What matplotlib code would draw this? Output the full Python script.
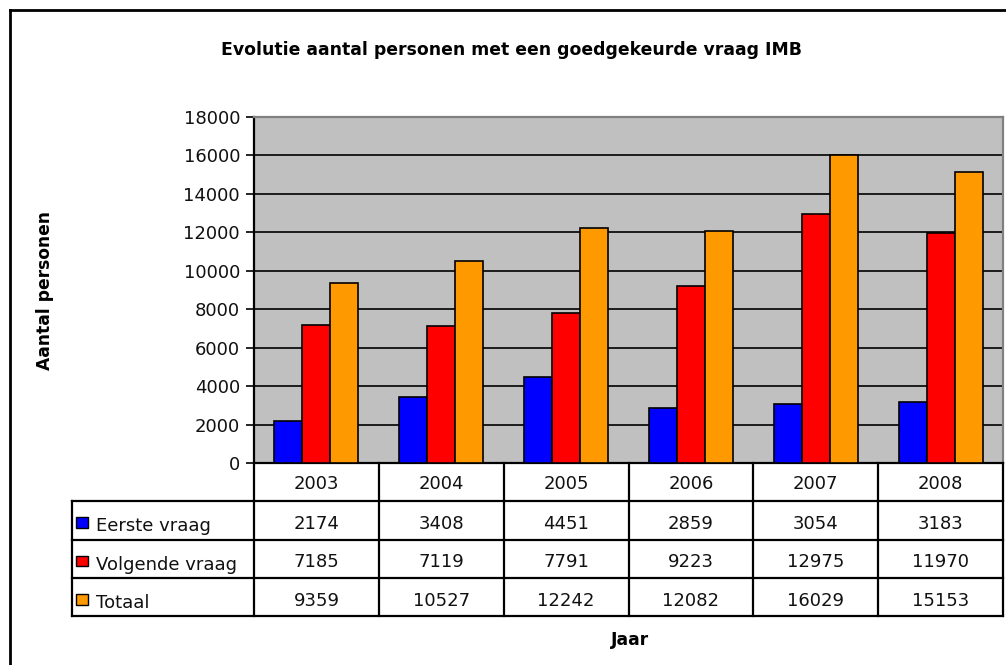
import numpy as np
import matplotlib.pyplot as plt
from matplotlib.lines import Line2D
from matplotlib.patches import Rectangle

years = ['2003', '2004', '2005', '2006', '2007', '2008']
series_names = ['Eerste vraag', 'Volgende vraag', 'Totaal']
eerste = [2174, 3408, 4451, 2859, 3054, 3183]
volgende = [7185, 7119, 7791, 9223, 12975, 11970]
totaal = [9359, 10527, 12242, 12082, 16029, 15153]
colors = ['#0000FF', '#FF0000', '#FF9900']

W, H = 1006, 665
fig = plt.figure(figsize=(W / 100, H / 100), dpi=100)
plt.rcParams['font.family'] = ['DejaVu Sans']
fs = 13

# plot area in pixels
px_l, px_r, px_t, px_b = 254, 1003, 117, 463
ax = fig.add_axes([px_l / W, 1 - px_b / H, (px_r - px_l) / W, (px_b - px_t) / H])
ax.set_facecolor('#C0C0C0')

x = np.arange(len(years))
bw = 0.224
for i, (vals, c) in enumerate(zip([eerste, volgende, totaal], colors)):
    ax.bar(x + (i - 1) * bw, vals, bw, color=c, edgecolor='black', linewidth=1.2, zorder=3)

ax.set_xlim(-0.5, len(years) - 0.5)
ax.set_ylim(0, 18000)
ax.set_yticks(np.arange(0, 18001, 2000))
ax.set_xticks([])
ax.yaxis.grid(True, color='black', linewidth=1.2)
ax.set_axisbelow(True)
for s in ['left', 'bottom']:
    ax.spines[s].set_color('black')
    ax.spines[s].set_linewidth(1.6)
for s in ['top', 'right']:
    ax.spines[s].set_color('#808080')
    ax.spines[s].set_linewidth(1.6)
ax.tick_params(axis='y', direction='out', length=6, width=1.2, labelsize=fs, pad=4,
               labelcolor='#111111')

# data table below the plot
tb_l, tb_t, tb_b = 72, 463, 616
unit = (px_r - px_l) / len(years)
x_left = -0.5 - (px_l - tb_l) / unit
tax = fig.add_axes([tb_l / W, 1 - tb_b / H, (px_r - tb_l) / W, (tb_b - tb_t) / H])
tax.set_xlim(x_left, len(years) - 0.5)
tax.set_ylim(4, 0)
tax.axis('off')
lk = dict(color='black', linewidth=1.6, clip_on=False)
for k in range(len(years) + 1):
    tax.plot([k - 0.5, k - 0.5], [0, 4], **lk)
for r in range(1, 5):
    tax.plot([x_left, len(years) - 0.5], [r, r], **lk)
tax.plot([x_left, x_left], [1, 4], **lk)

for k, yr in enumerate(years):
    tax.text(k, 0.55, yr, ha='center', va='center', fontsize=fs, color='#111111')
for r, (name, vals, c) in enumerate(zip(series_names, [eerste, volgende, totaal], colors)):
    row = r + 1
    for k, v in enumerate(vals):
        tax.text(k, row + 0.6, str(v), ha='center', va='center', fontsize=fs, color='#111111')
    sx = x_left + 4 / unit
    tax.add_patch(Rectangle((sx, row + 0.42), 12 / unit, 0.28, facecolor=c,
                            edgecolor='black', linewidth=1, clip_on=False))
    tax.text(x_left + 24 / unit, row + 0.66, name, ha='left', va='center', fontsize=fs,
             color='#111111')

fig.text(512 / W, 1 - 50 / H, 'Evolutie aantal personen met een goedgekeurde vraag IMB',
         ha='center', va='center', fontsize=12.4, fontweight='bold')
fig.text(45 / W, 1 - 290 / H, 'Aantal personen', ha='center', va='center',
         rotation=90, fontsize=12.3, fontweight='bold')
fig.text(630 / W, 1 - 640 / H, 'Jaar', ha='center', va='center', fontsize=12.3, fontweight='bold')

# outer chart border
fig.add_artist(Line2D([10 / W, 10 / W], [0, 1 - 10 / H], color='black', linewidth=2))
fig.add_artist(Line2D([10 / W, 1], [1 - 10 / H, 1 - 10 / H], color='black', linewidth=2))

fig.savefig('out.png', dpi=100)
